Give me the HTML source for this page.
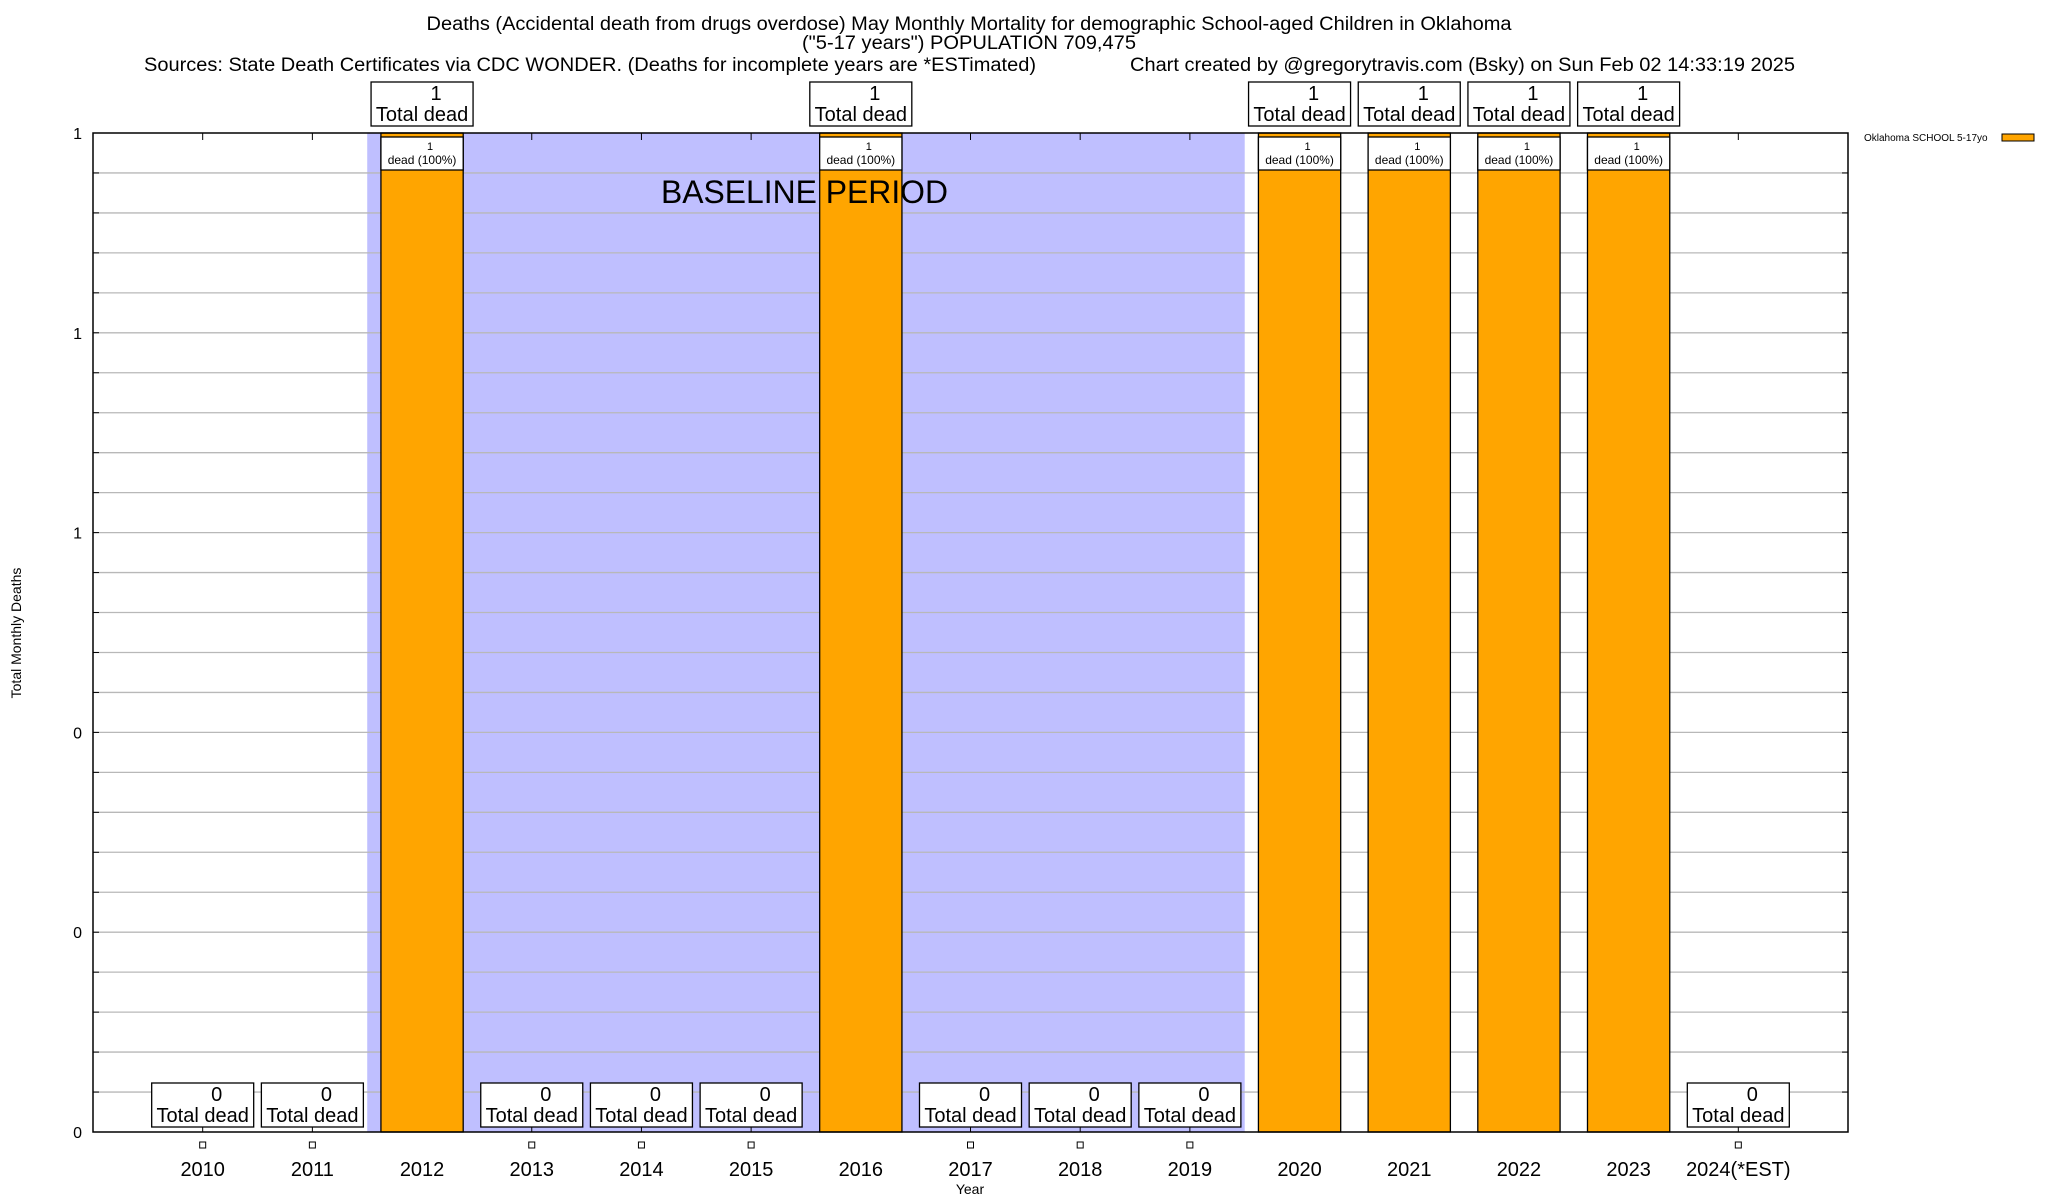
<!DOCTYPE html>
<html><head><meta charset="utf-8"><style>
html,body{margin:0;padding:0;background:#fff}
svg{display:block;font-family:"Liberation Sans",sans-serif}
</style></head><body>
<svg id="chart" width="2048" height="1200" viewBox="0 0 2048 1200" xmlns="http://www.w3.org/2000/svg">
<g font-size="19" fill="#000">
<text x="969" y="30" text-anchor="middle" textLength="1085" lengthAdjust="spacingAndGlyphs">Deaths (Accidental death from drugs overdose) May Monthly Mortality for demographic School-aged Children in Oklahoma</text>
<text x="969" y="49" text-anchor="middle" textLength="334" lengthAdjust="spacingAndGlyphs">("5-17 years") POPULATION 709,475</text>
<text x="144" y="71" textLength="892" lengthAdjust="spacingAndGlyphs">Sources: State Death Certificates via CDC WONDER. (Deaths for incomplete years are *ESTimated)</text>
<text x="1130" y="71" textLength="665" lengthAdjust="spacingAndGlyphs">Chart created by @gregorytravis.com (Bsky) on Sun Feb 02 14:33:19 2025</text>
</g>
<g id="plot"></g>
<text x="0" y="0" font-size="14" text-anchor="middle" transform="translate(21,633) rotate(-90)">Total Monthly Deaths</text>
<text x="970" y="1194" font-size="14" text-anchor="middle">Year</text>
<g>
<text x="1864" y="141" font-size="10">Oklahoma SCHOOL 5-17yo</text>
<rect x="2002" y="134" width="32" height="7" fill="#ffa500" stroke="#000" stroke-width="1"/>
</g>
</svg>
<script>
const years = ["2010","2011","2012","2013","2014","2015","2016","2017","2018","2019","2020","2021","2022","2023","2024(*EST)"];
const deaths = [0,0,1,0,0,0,1,0,0,0,1,1,1,1,0];
const yTicks = [0,0.2,0.4,0.6,0.8,1];
const baselineStart = 2; // index of 2012
const baselineEnd = 9;   // index of 2019

const NS = "http://www.w3.org/2000/svg";
const L = 93, R = 1848, T = 133, B = 1132;
const step = (R - L) / (years.length + 1);
const yMax = 1;
function xPos(i){ return L + (i + 1) * step; }
function yPos(v){ return B - (v / yMax) * (B - T); }
const plot = document.getElementById('plot');
function mk(tag, attrs, parent){
  const e = document.createElementNS(NS, tag);
  for (const k in attrs) e.setAttribute(k, attrs[k]);
  (parent || plot).appendChild(e);
  return e;
}
const shade = mk('rect', {x: xPos(baselineStart) - step/2, y: T, width: xPos(baselineEnd) - xPos(baselineStart) + step, height: B - T, fill: '#bfbfff'});


for (let k = 1; k < 25; k++){
  const gy = B - k * (B - T) / 25;
  const g = mk('line', {x1: L, x2: R, y1: gy, y2: gy, stroke: '#b8b8b8', 'stroke-width': 1.3});
  
  
  const t1 = mk('line', {x1: L, x2: L + 6, y1: gy, y2: gy, stroke: '#000'});
  
  
  const t2 = mk('line', {x1: R - 6, x2: R, y1: gy, y2: gy, stroke: '#000'});
  
  
}
yTicks.forEach(v => {
  const lab = mk('text', {x: 82, y: yPos(v) + 6, 'font-size': 16, 'text-anchor': 'end'});
  lab.textContent = v.toFixed(0);
  
  
});
const bw = step * 0.75;
years.forEach((yr, i) => {
  const cx = xPos(i);
  const v = deaths[i];
  const tt = mk('line', {x1: cx, x2: cx, y1: T, y2: T + 7, stroke: '#000'});
  
  
  if (v > 0){
    const bar = mk('rect', {x: cx - bw/2, y: yPos(v), width: bw, height: B - yPos(v), fill: '#ffa500', stroke: '#000', 'stroke-width': 1.3});
    
    
    const ib = mk('rect', {x: cx - bw/2, y: yPos(v) + 4, width: bw, height: 33, fill: '#fff', stroke: '#000', 'stroke-width': 1.3});
    
    
    const i1 = mk('text', {x: cx + 8, y: yPos(v) + 17, 'font-size': 11, 'text-anchor': 'middle'});
    i1.textContent = v;
    
    
    const i2 = mk('text', {x: cx, y: yPos(v) + 31, 'font-size': 12, 'text-anchor': 'middle'});
    i2.textContent = 'dead (100%)';
    
    
  } else {
    const tk = mk('line', {x1: cx, x2: cx, y1: B - 8, y2: B, stroke: '#000'});
    
    
  }
  const by = v > 0 ? yPos(v) - 51 : B - 49;
  const box = mk('rect', {x: cx - 51, y: by, width: 102, height: 44, fill: '#fff', stroke: '#000', 'stroke-width': 1.3});
  
  
  const t1 = mk('text', {x: cx + 14, y: by + 18, 'font-size': 20, 'text-anchor': 'middle'});
  t1.textContent = v;
  
  
  const t2 = mk('text', {x: cx, y: by + 39, 'font-size': 20, 'text-anchor': 'middle'});
  t2.textContent = 'Total dead';
  
  
  if (v === 0){
    const sq = mk('rect', {x: cx - 3, y: 1142, width: 6, height: 6, fill: 'none', stroke: '#000', 'stroke-width': 1});
    
    
  }
  const xl = mk('text', {x: cx, y: 1176, 'font-size': 20, 'text-anchor': 'middle'});
  xl.textContent = yr;
  
  
});
const bt = mk('text', {x: 661, y: 203, 'font-size': 32, textLength: 287, lengthAdjust: 'spacingAndGlyphs'});
bt.textContent = 'BASELINE PERIOD';


const frame = mk('rect', {x: L, y: T, width: R - L, height: B - T, fill: 'none', stroke: '#000', 'stroke-width': 1.5});


</script>
</body></html>
